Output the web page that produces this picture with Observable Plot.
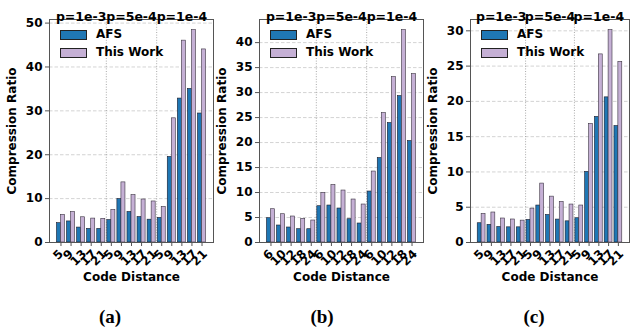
<!DOCTYPE html>
<html>
<head>
<meta charset="utf-8">
<script src="https://cdn.jsdelivr.net/npm/d3@7"></script>
<script src="https://cdn.jsdelivr.net/npm/@observablehq/plot@0.6"></script>
<style>
  html, body { margin: 0; padding: 0; background: #fff; }
  #root { position: relative; width: 631px; height: 331px; overflow: hidden; font-family: "DejaVu Sans", sans-serif; }
  .panel { position: absolute; top: 0; }
  .legend { position: absolute; font: bold 12px "DejaVu Sans", sans-serif; color: #000; }
  .legend .row { position: absolute; white-space: nowrap; }
  .legend .sw { position: absolute; width: 25px; height: 8px; border: 0.8px solid #222; }
  .legend .lb { position: absolute; left: 36px; top: -3px; }
  .cap { position: absolute; top: 305px; font: bold 19px "Liberation Serif", "Times New Roman", serif; transform: translateX(-50%); line-height: 24px; }
</style>
</head>
<body>
<div id="root"></div>
<script>
// ---- data ----
const errorRates = ["p=1e-3", "p=5e-4", "p=1e-4"];
const seriesNames = ["AFS", "This Work"];
const seriesColors = ["#1f77b4", "#c5b0d5"];

const distancesA = [5, 9, 13, 17, 21];
const afsA  = [4.4, 4.8, 3.4, 3.1, 3.1, 5.1, 9.9, 6.95, 5.8, 5.2, 5.6, 19.5, 32.8, 35.0, 29.4];
const oursA = [6.3, 6.95, 5.75, 5.45, 5.4, 7.4, 13.7, 10.8, 9.8, 9.35, 8.1, 28.3, 46.0, 48.4, 44.0];
const yTicksA = [0, 10, 20, 30, 40, 50];

const distancesB = [6, 10, 12, 18, 24];
const afsB  = [4.86, 3.4, 3.0, 2.66, 2.66, 7.26, 7.4, 6.8, 4.66, 3.8, 10.2, 16.9, 23.9, 29.3, 20.3];
const oursB = [6.66, 5.66, 5.2, 4.73, 4.4, 9.93, 11.5, 10.4, 8.6, 7.6, 14.2, 25.9, 33.1, 42.5, 33.7];
const yTicksB = [0, 5, 10, 15, 20, 25, 30, 35, 40];

const distancesC = [5, 9, 13, 17, 21];
const afsC  = [2.73, 2.5, 2.2, 2.15, 2.15, 3.2, 5.24, 3.9, 3.25, 3.0, 3.44, 10.0, 17.8, 20.57, 16.5];
const oursC = [4.05, 4.25, 3.4, 3.26, 3.1, 4.8, 8.35, 6.5, 5.75, 5.38, 5.24, 16.8, 26.66, 30.1, 25.6];
const yTicksC = [0, 5, 10, 15, 20, 25, 30];

const captions = ["(a)", "(b)", "(c)"];

// ---- layout ----
const panels = [
  {dists: distancesA, afs: afsA, ours: oursA, yTicks: yTicksA, left: 0,   width: 215, ml: 49, cap: captions[0], capX: 110},
  {dists: distancesB, afs: afsB, ours: oursB, yTicks: yTicksB, left: 215, width: 210, ml: 44, cap: captions[1], capX: 322},
  {dists: distancesC, afs: afsC, ours: oursC, yTicks: yTicksC, left: 425, width: 206, ml: 45, cap: captions[2], capX: 534}
];
const H = 300, MT = 19, MB = H - 242, MR = 2;
const root = document.getElementById("root");

for (const p of panels) {
  const n = p.afs.length;
  const rows = d3.range(n).map(i => ({
    i, grp: Math.floor(i / p.dists.length), d: p.dists[i % p.dists.length],
    afs: p.afs[i], ours: p.ours[i]
  }));
  const ymax = d3.max([...p.afs, ...p.ours]) * 1.05;
  const groupCenters = errorRates.map((r, g) => ({r, x: g * p.dists.length + (p.dists.length - 1) / 2}));
  const seps = d3.range(1, errorRates.length).map(g => g * p.dists.length - 0.5);
  const one = rows.filter(r => String(r.d).length === 1);
  const two = rows.filter(r => String(r.d).length > 1);
  const bold = {fontWeight: "bold", fontSize: 12, fill: "#000"};

  const chart = Plot.plot({
    width: p.width, height: H,
    marginLeft: p.ml, marginRight: MR, marginTop: MT, marginBottom: MB,
    style: {fontFamily: "DejaVu Sans, sans-serif", color: "#000", background: "transparent", overflow: "visible"},
    x: {type: "linear", domain: [-1.14, n - 1 + 1.14]},
    y: {domain: [0, ymax]},
    marks: [
      Plot.gridY(p.yTicks, {stroke: "#c8c8c8", strokeOpacity: 1, strokeWidth: 0.8, strokeDasharray: "3.5,2"}),
      Plot.ruleX(seps, {stroke: "#a0a0a0", strokeWidth: 0.9, strokeDasharray: "1,1.6"}),
      Plot.rect(rows, {x1: d => d.i - 0.4, x2: d => d.i, y1: 0, y2: "afs", fill: seriesColors[0], stroke: "#1a1a2a", strokeWidth: 0.6}),
      Plot.rect(rows, {x1: d => d.i, x2: d => d.i + 0.4, y1: 0, y2: "ours", fill: seriesColors[1], stroke: "#3a3340", strokeWidth: 0.6}),
      Plot.frame({stroke: "#555", strokeWidth: 1}),
      Plot.axisY(p.yTicks, {tickSize: 4, tickPadding: 3, label: null, stroke: "#555", ...bold}),
      Plot.axisX(rows.map(r => r.i), {tickSize: 4, tickFormat: () => "", label: null, stroke: "#555"}),
      Plot.text(one, {x: "i", text: "d", frameAnchor: "bottom", dy: 15, rotate: -45, textAnchor: "middle", ...bold}),
      Plot.text(two, {x: "i", text: "d", frameAnchor: "bottom", dy: 18, rotate: -45, textAnchor: "middle", ...bold}),
      Plot.text(groupCenters, {x: "x", text: "r", frameAnchor: "top", dy: -7, ...bold, fontSize: 12.5}),
      Plot.text(["Compression Ratio"], {frameAnchor: "left", dx: -37, rotate: -90, textAnchor: "middle", ...bold}),
      Plot.text(["Code Distance"], {frameAnchor: "bottom", dy: 38, textAnchor: "middle", ...bold})
    ]
  });
  const wrap = document.createElement("div");
  wrap.className = "panel";
  wrap.style.left = p.left + "px";
  wrap.appendChild(chart);
  root.appendChild(wrap);

  // legend (upper-left inside the axes)
  const lg = document.createElement("div");
  lg.className = "legend";
  lg.style.left = (p.left + p.ml + 11) + "px";
  lg.style.top = "30px";
  seriesNames.forEach((name, k) => {
    const row = document.createElement("div");
    row.className = "row";
    row.style.top = (k * 18) + "px";
    const sw = document.createElement("div");
    sw.className = "sw";
    sw.style.background = seriesColors[k];
    const lb = document.createElement("div");
    lb.className = "lb";
    lb.textContent = name;
    row.appendChild(sw); row.appendChild(lb);
    lg.appendChild(row);
  });
  root.appendChild(lg);

  const cap = document.createElement("div");
  cap.className = "cap";
  cap.style.left = p.capX + "px";
  cap.textContent = p.cap;
  root.appendChild(cap);
}
</script>
</body>
</html>
